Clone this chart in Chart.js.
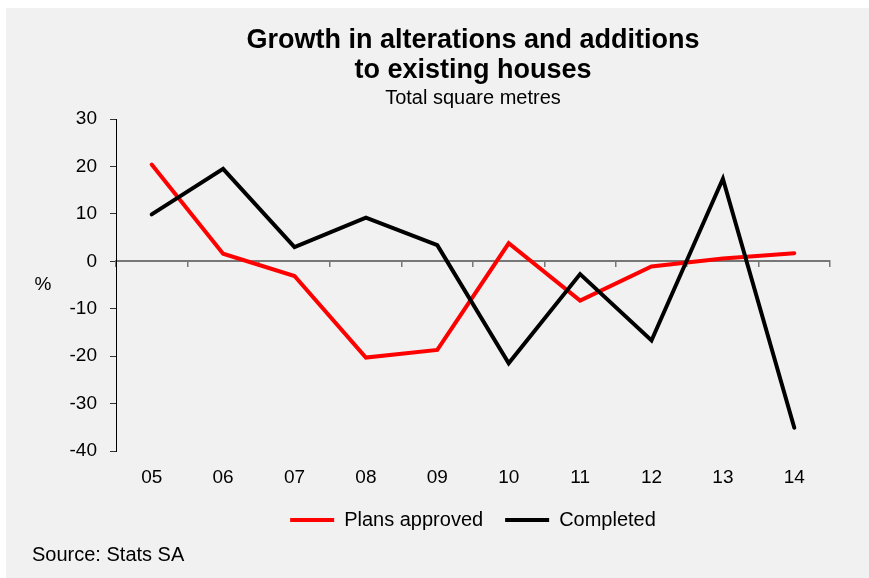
<!DOCTYPE html>
<html>
<head>
<meta charset="utf-8">
<script src="https://cdn.jsdelivr.net/npm/chart.js@4/dist/chart.umd.min.js"></script>
<style>
    html, body { margin: 0; padding: 0; background: #ffffff; }
    #panel {
        position: absolute;
        left: 6px;
        top: 8px;
        width: 863px;
        height: 570px;
        background: #f1f1f1;
    }
</style>
</head>
<body>
<div id="panel"><canvas id="chart"></canvas></div>
<script>
const years = ['05', '06', '07', '08', '09', '10', '11', '12', '13', '14'];
const plansApproved = [20.4, 1.6, -3.1, -20.3, -18.7, 3.8, -8.3, -1.1, 0.6, 1.7];
const completed = [9.9, 19.5, 3.0, 9.2, 3.4, -21.5, -2.7, -16.7, 17.4, -35.1];
const yTicks = [30, 20, 10, 0, -10, -20, -30, -40];

const FONT = '"Liberation Sans", Arial, sans-serif';
Chart.defaults.font.family = FONT;
Chart.defaults.color = '#000000';

// "%" label next to the y axis, and the source note under the legend
const extraText = {
    id: 'extraText',
    afterDraw(chart) {
        const ctx = chart.ctx;
        const y = chart.scales.y;
        ctx.save();
        ctx.fillStyle = '#000000';
        ctx.font = '19px ' + FONT;
        ctx.textBaseline = 'middle';
        ctx.textAlign = 'center';
        ctx.fillText('%', chart.chartArea.left - 73, y.getPixelForValue(0) + 23);
        ctx.font = '20px ' + FONT;
        ctx.textAlign = 'left';
        ctx.fillText('Source: Stats SA', 26, chart.height - 23);
        ctx.restore();
    },
};

new Chart(document.getElementById('chart'), {
    type: 'line',
    data: {
        labels: years,
        datasets: [
            {
                label: 'Plans approved',
                data: plansApproved,
                borderColor: '#ff0000',
                backgroundColor: '#ff0000',
                borderWidth: 4,
                pointRadius: 0,
                tension: 0,
                borderCapStyle: 'round',
                order: 1,
            },
            {
                label: 'Completed',
                data: completed,
                borderColor: '#000000',
                backgroundColor: '#000000',
                borderWidth: 4,
                pointRadius: 0,
                tension: 0,
                borderCapStyle: 'round',
                order: 0,
            },
        ],
    },
    options: {
        responsive: true,
        maintainAspectRatio: false,
        animation: false,
        layout: { padding: { left: 0, right: 39, top: 0, bottom: 38 } },
        plugins: {
            title: {
                display: true,
                fullSize: false,
                text: ['Growth in alterations and additions', 'to existing houses'],
                font: { size: 27, weight: 'bold', lineHeight: 30 / 27 },
                color: '#000000',
                padding: { top: 18, bottom: 0 },
            },
            subtitle: {
                display: true,
                fullSize: false,
                text: 'Total square metres',
                font: { size: 20, lineHeight: 1.15 },
                color: '#000000',
                padding: { top: 1, bottom: 9 },
            },
            legend: {
                position: 'bottom',
                fullSize: false,
                labels: {
                    boxWidth: 44,
                    boxHeight: 4,
                    padding: 22,
                    font: { size: 20 },
                    color: '#000000',
                    sort: (a, b) => a.datasetIndex - b.datasetIndex,
                    generateLabels: (chart) =>
                        Chart.defaults.plugins.legend.labels
                            .generateLabels(chart)
                            .map((l) => ({ ...l, lineWidth: 0 })),
                },
            },
            tooltip: { enabled: false },
        },
        scales: {
            x: {
                type: 'category',
                position: 'bottom',
                offset: true,
                grid: { display: false },
                border: { display: false },
                ticks: { padding: 7, font: { size: 19 }, color: '#000000', maxRotation: 0 },
                afterFit: (s) => { s.height = 37; },
            },
            x2: {
                type: 'category',
                position: { y: 0 },
                offset: true,
                grid: {
                    offset: true,
                    drawOnChartArea: false,
                    drawTicks: true,
                    tickLength: 5,
                    color: '#777777',
                    lineWidth: 1.5,
                },
                border: { display: true, color: '#777777', width: 2 },
                ticks: { display: false },
                afterFit: (s) => { s.height = 0; },
            },
            y: {
                min: -40,
                max: 30,
                afterBuildTicks: (s) => { s.ticks = yTicks.map((v) => ({ value: v })); },
                grid: {
                    drawOnChartArea: false,
                    drawTicks: true,
                    tickLength: 6,
                    color: '#333333',
                },
                border: { display: true, color: '#000000', width: 1 },
                ticks: { padding: 13, font: { size: 19 }, color: '#000000' },
                afterFit: (s) => { s.width = 110; },
            },
        },
    },
    plugins: [extraText],
});
</script>
</body>
</html>
